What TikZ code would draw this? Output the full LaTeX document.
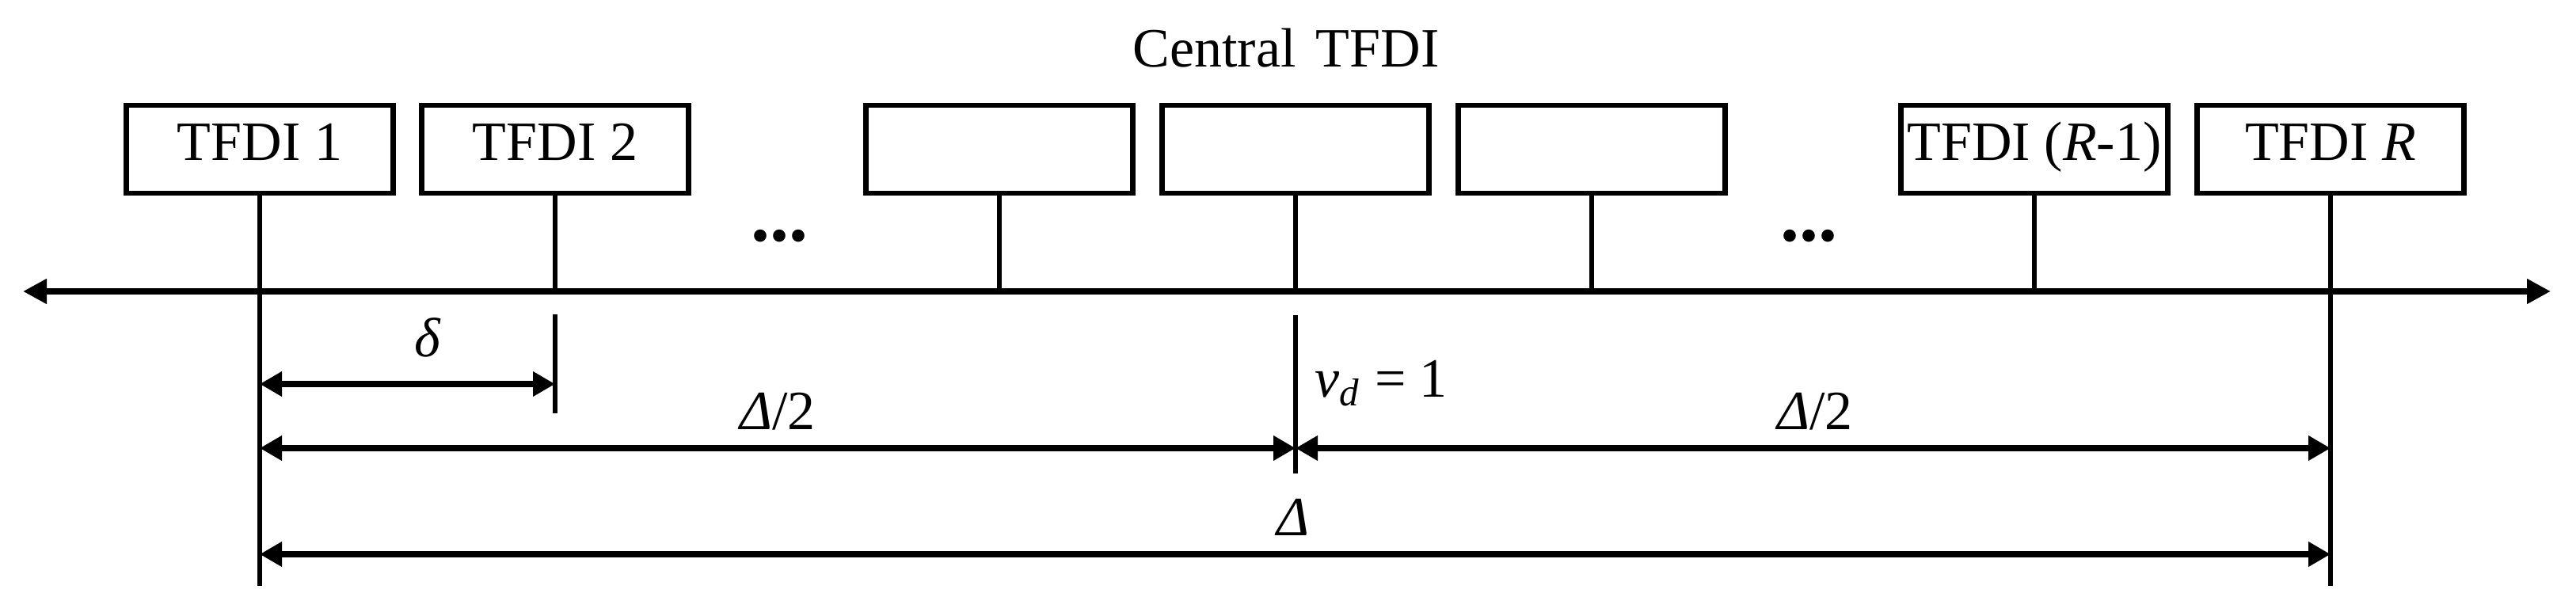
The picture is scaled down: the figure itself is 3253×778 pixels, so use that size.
\documentclass[tikz,border=0pt]{standalone}
\usepackage{fontspec}
\setmainfont{Liberation Serif}
\usetikzlibrary{arrows.meta}
\begin{document}
\begin{tikzpicture}[x=0.25pt,y=-0.25pt,
  txt/.style={font=\fontsize{17.5}{20}\selectfont,inner sep=0pt},
  dots/.style={font=\fontsize{24}{26}\selectfont\bfseries,inner sep=0pt},
  box/.style={txt,draw,line width=1.6pt,minimum width=84.25pt,minimum height=27.75pt,text height=0.7em,text depth=0pt},
  stem/.style={line width=1.6pt},
  tick/.style={line width=1.7pt},
  axis/.style={line width=2pt,{Triangle[length=7.5pt,width=7.5pt]}-{Triangle[length=7.5pt,width=7.5pt]}},
  dim/.style={line width=1.9pt,{Triangle[length=7pt,width=7.5pt]}-{Triangle[length=7pt,width=7.5pt]}}]
\useasboundingbox (0,0) rectangle (3253,778);
% axis
\coordinate (aL) at (29,368);
\coordinate (aR) at (3221,368);
\coordinate (lo) at (0,740);
\draw[axis] (aL) -- (aR);
% boxes
\node[box] (b1) at (328,188.5) {TFDI 1};
\node[box] (b2) at (701,188.5) {TFDI 2};
\node[box] (b3) at (1262,188.5) {};
\node[box] (b4) at (1636,188.5) {};
\node[box] (b5) at (2010,188.5) {};
\node[box] (b6) at (2569,188.5) {TFDI (\textit{R}-1)};
\node[box] (b7) at (2943,188.5) {TFDI \textit{R}};
\node[txt,anchor=base] (ct) at (1624,85) {Central\hspace{0.36em}TFDI};
\node[dots,anchor=base] (d1) at (984,305) {...};
\node[dots,anchor=base] (d2) at (2284,305) {...};
% stems
\draw[stem] (b1.south) -- (b1.south |- lo);
\draw[stem] (b2.south) -- (b2.south |- aL);
\draw[stem] (b3.south) -- (b3.south |- aL);
\draw[stem] (b4.south) -- (b4.south |- aL);
\draw[stem] (b5.south) -- (b5.south |- aL);
\draw[stem] (b6.south) -- (b6.south |- aL);
\draw[stem] (b7.south) -- (b7.south |- lo);
% ticks
\coordinate (t2a) at (701,397);
\coordinate (t2b) at (701,522);
\coordinate (tca) at (1636,398);
\coordinate (tcb) at (1636,598);
\draw[tick] (t2a) -- (t2b);
\draw[tick] (tca) -- (tcb);
% dimension lines
\coordinate (yd) at (0,485);
\coordinate (yh) at (0,566);
\coordinate (yD) at (0,700);
\draw[dim] (b1.south |- yd) -- (t2a |- yd);
\draw[dim] (b1.south |- yh) -- (tca |- yh);
\draw[dim] (tca |- yh) -- (b7.south |- yh);
\draw[dim] (b1.south |- yD) -- (b7.south |- yD);
% labels
\node[txt,anchor=base] (ld) at (540,451) {\textit{δ}};
\node[txt,anchor=base] (lh1) at (982,543) {\textit{Δ}/2};
\node[txt,anchor=base] (lh2) at (2292,543) {\textit{Δ}/2};
\node[txt,anchor=base] (lD) at (1633,677) {\textit{Δ}};
\node[txt,anchor=base west] (lv) at (1660,502) {\textit{v}\textsubscript{\textit{d}} = 1};
\end{tikzpicture}
\end{document}
